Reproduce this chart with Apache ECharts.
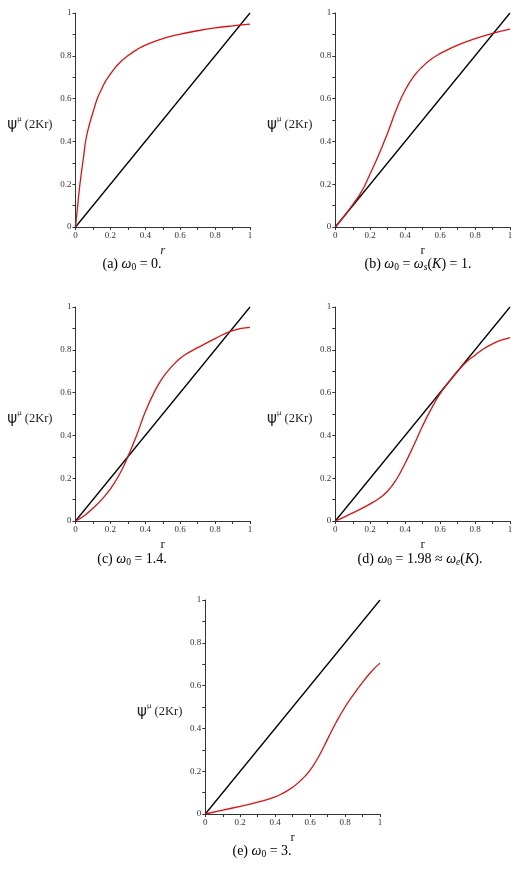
<!DOCTYPE html>
<html>
<head>
<meta charset="utf-8">
<script src="https://cdn.jsdelivr.net/npm/echarts@6/dist/echarts.min.js"></script>
<style>
	html, body { margin: 0; padding: 0; background: #fff; }
	#main { width: 520px; height: 871px; }
</style>
</head>
<body>
<div id="main"></div>
<script>
	// r values and psi^mu(2Kr)
	const rA   = [0, 0.01, 0.02, 0.03, 0.045, 0.06, 0.08, 0.1, 0.125, 0.15, 0.175, 0.2, 0.25, 0.3, 0.35, 0.4, 0.5, 0.6, 0.7, 0.8, 0.9, 1.0]
	const psiA = [0, 0.08, 0.16, 0.23, 0.32, 0.41, 0.48, 0.535, 0.6, 0.645, 0.685, 0.715, 0.765, 0.8, 0.828, 0.85, 0.88, 0.901, 0.917, 0.93, 0.94, 0.948]

	const rB   = [0, 0.05, 0.1, 0.15, 0.2, 0.25, 0.3, 0.35, 0.4, 0.45, 0.5, 0.55, 0.6, 0.7, 0.8, 0.9, 1.0]
	const psiB = [0, 0.05, 0.105, 0.165, 0.25, 0.34, 0.44, 0.55, 0.64, 0.705, 0.75, 0.785, 0.81, 0.85, 0.88, 0.905, 0.925]

	const rC   = [0, 0.05, 0.1, 0.15, 0.2, 0.25, 0.3, 0.35, 0.4, 0.45, 0.5, 0.55, 0.6, 0.65, 0.7, 0.8, 0.9, 1.0]
	const psiC = [0, 0.025, 0.06, 0.1, 0.15, 0.215, 0.3, 0.4, 0.51, 0.6, 0.67, 0.72, 0.76, 0.788, 0.81, 0.852, 0.89, 0.905]

	const rD   = [0, 0.05, 0.1, 0.15, 0.2, 0.25, 0.3, 0.35, 0.4, 0.45, 0.5, 0.55, 0.6, 0.65, 0.7, 0.75, 0.8, 0.85, 0.9, 0.95, 1.0]
	const psiD = [0, 0.018, 0.038, 0.058, 0.08, 0.105, 0.14, 0.195, 0.27, 0.355, 0.445, 0.525, 0.595, 0.65, 0.7, 0.743, 0.775, 0.805, 0.828, 0.845, 0.857]

	const rE   = [0, 0.1, 0.2, 0.3, 0.4, 0.45, 0.5, 0.55, 0.6, 0.65, 0.7, 0.75, 0.8, 0.85, 0.9, 0.95, 1.0]
	const psiE = [0, 0.018, 0.036, 0.055, 0.08, 0.1, 0.125, 0.16, 0.205, 0.27, 0.35, 0.43, 0.5, 0.56, 0.615, 0.665, 0.705]

	// identity line r -> r
	const diagR = [0, 1]

	const curves = [[rA, psiA], [rB, psiB], [rC, psiC], [rD, psiD], [rE, psiE]]

	const serif = 'Liberation Serif'

	const grids = [
		{ left: 75.5, top: 13, width: 174.5, height: 214 },
		{ left: 335.3, top: 13, width: 174.7, height: 214 },
		{ left: 75.5, top: 307, width: 174.5, height: 214 },
		{ left: 335.3, top: 307, width: 174.7, height: 214 },
		{ left: 205.3, top: 600, width: 174.7, height: 214 }
	]

	const axisCommon = {
		type: 'value',
		min: 0,
		max: 1,
		interval: 0.2,
		axisLine: { show: true, lineStyle: { color: '#333', width: 1 } },
		axisTick: { show: true, length: 3, lineStyle: { color: '#333' } },
		minorTick: { show: true, splitNumber: 2, length: 3, lineStyle: { color: '#333' } },
		splitLine: { show: false },
		axisLabel: { fontSize: 9, fontFamily: serif, color: '#333', margin: 4 }
	}

	const xAxis = []
	const yAxis = []
	const series = []

	grids.forEach((g, i) => {
		xAxis.push(Object.assign({}, axisCommon, {
			gridIndex: i,
			name: 'r',
			nameLocation: 'middle',
			nameGap: 17,
			nameTextStyle: { fontFamily: serif, fontSize: 13, color: '#222', fontStyle: i === 0 ? 'italic' : 'normal' }
		}))
		yAxis.push(Object.assign({}, axisCommon, {
			gridIndex: i,
			name: '{psi|ψ}{mu|μ}{rest| (2Kr)}',
			nameLocation: 'middle',
			nameRotate: 0,
			nameGap: 23,
			nameTextStyle: {
				color: '#222',
				padding: [10, 0, 0, 0],
				rich: {
					psi: { fontSize: 15, fontFamily: 'DejaVu Sans', color: '#222' },
					mu: { fontSize: 7, fontFamily: 'DejaVu Sans', color: '#222', padding: [0, 0, 12, 0] },
					rest: { fontSize: 12.5, fontFamily: serif, color: '#222' }
				}
			}
		}))
		series.push({
			type: 'line',
			xAxisIndex: i,
			yAxisIndex: i,
			data: diagR.map(v => [v, v]),
			showSymbol: false,
			lineStyle: { color: '#000', width: 1.3 }
		})
		series.push({
			type: 'line',
			xAxisIndex: i,
			yAxisIndex: i,
			data: curves[i][0].map((v, k) => [v, curves[i][1][k]]),
			showSymbol: false,
			smooth: 0.5,
			lineStyle: { color: '#e01010', width: 1.3 }
		})
	})

	const capRich = {
		t: { fontSize: 14, fontFamily: serif, color: '#333' },
		w: { fontSize: 14, fontFamily: serif, fontStyle: 'italic', color: '#333' },
		s: { fontSize: 9.5, fontFamily: serif, color: '#333', padding: [7, 0, 0, 0] },
		si: { fontSize: 9.5, fontFamily: serif, fontStyle: 'italic', color: '#333', padding: [7, 0, 0, 0] }
	}

	function caption(x, y, text) {
		return {
			type: 'text',
			x: x,
			y: y,
			style: { text: text, rich: capRich, align: 'center', verticalAlign: 'middle' }
		}
	}

	const option = {
		animation: false,
		backgroundColor: '#fff',
		grid: grids,
		xAxis: xAxis,
		yAxis: yAxis,
		series: series,
		graphic: [
			caption(132, 264, '{t|(a) }{w|ω}{s|0}{t| = 0.}'),
			caption(418, 264, '{t|(b) }{w|ω}{s|0}{t| = }{w|ω}{si|s}{t|(}{w|K}{t|) = 1.}'),
			caption(132, 559, '{t|(c) }{w|ω}{s|0}{t| = 1.4.}'),
			caption(420, 559, '{t|(d) }{w|ω}{s|0}{t| = 1.98 ≈ }{w|ω}{si|e}{t|(}{w|K}{t|).}'),
			caption(262, 851, '{t|(e) }{w|ω}{s|0}{t| = 3.}')
		]
	}

	const chart = echarts.init(document.getElementById('main'))
	chart.setOption(option)
</script>
</body>
</html>
